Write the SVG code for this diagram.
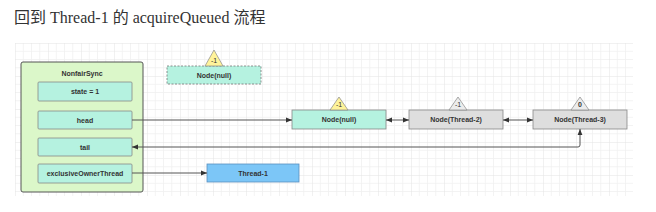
<svg xmlns="http://www.w3.org/2000/svg" width="656" height="212" viewBox="0 0 656 212">
<defs>
<pattern id="grid" x="15" y="43" width="33" height="33" patternUnits="userSpaceOnUse">
<path d="M8.25 0V33M16.5 0V33M24.75 0V33M0 8.25H33M0 16.5H33M0 24.75H33" stroke="#f0f0f0" stroke-width="0.8" fill="none"/>
<path d="M0 0V33M0 0H33" stroke="#e4e4e4" stroke-width="1" fill="none"/>
</pattern>
<marker id="arr" viewBox="0 0 10 10" refX="10" refY="5" markerWidth="6" markerHeight="6" orient="auto-start-reverse" markerUnits="userSpaceOnUse">
<path d="M0 1L10 5L0 9Z" fill="#333"/>
</marker>
<style>
.t{font-family:"Liberation Sans",Arial,sans-serif;font-size:7px;font-weight:bold;fill:#333;text-anchor:middle}
.f{fill:#b5f2e0;stroke:#888;stroke-width:0.8}
.g{fill:#dedede;stroke:#888;stroke-width:0.8}
.tri{fill:#fff39a;stroke:#888;stroke-width:0.7}
.tri2{fill:#ececec;stroke:#888;stroke-width:0.7}
.c{stroke:#555;stroke-width:1;fill:none}
.title{font-family:"Liberation Serif","Noto Sans CJK SC",serif;font-size:16px;fill:#333}
</style>
</defs>
<rect width="656" height="212" fill="#fff"/>
<rect x="15" y="43" width="618" height="153" fill="url(#grid)"/>
<text class="title" x="14" y="23">回到 Thread-1 的 acquireQueued 流程</text>

<g id="NonfairSync">
<rect x="21" y="62" width="122" height="130" rx="2" fill="#dbf7c9" stroke="#555" stroke-width="1"/>
<text class="t" x="82" y="76">NonfairSync</text>
</g>
<g id="state"><rect class="f" x="38" y="82" width="94" height="19" rx="1"/><text class="t" x="85" y="94">state = 1</text></g>
<g id="head"><rect class="f" x="38" y="111" width="94" height="18" rx="1"/><text class="t" x="85" y="122.5">head</text></g>
<g id="tail"><rect class="f" x="38" y="138" width="94" height="18" rx="1"/><text class="t" x="85" y="149.5">tail</text></g>
<g id="exclusiveOwnerThread"><rect class="f" x="38" y="164" width="94" height="19" rx="1"/><text class="t" x="85" y="176">exclusiveOwnerThread</text></g>

<g id="oldNode">
<rect x="167" y="66" width="94" height="18" fill="#b5f2e0" stroke="#777" stroke-width="0.8" stroke-dasharray="2,1.5"/>
<text class="t" x="214" y="78">Node(null)</text>
<path class="tri" d="M214 50L223 66H205Z"/>
<text class="t" x="214" y="63" font-size="6" style="font-weight:normal">-1</text>
</g>

<g id="nodeNull">
<rect class="f" x="292" y="110" width="94" height="19"/>
<text class="t" x="339" y="122">Node(null)</text>
<path class="tri" d="M339 97L348 110H330Z"/>
<text class="t" x="339" y="107" font-size="6" style="font-weight:normal">-1</text>
</g>

<g id="nodeThread2">
<rect class="g" x="409" y="110" width="94" height="19"/>
<text class="t" x="456" y="122">Node(Thread-2)</text>
<path class="tri2" d="M458 97L467 110H449Z"/>
<text class="t" x="458" y="107" font-size="6" style="font-weight:normal">-1</text>
</g>

<g id="nodeThread3">
<rect class="g" x="533" y="110" width="94" height="19"/>
<text class="t" x="580" y="122">Node(Thread-3)</text>
<path class="tri2" d="M580 97L589 110H571Z"/>
<text class="t" x="580" y="107" font-size="6">0</text>
</g>

<g id="thread1">
<rect x="207" y="164" width="92" height="18" fill="#7cc6f7" stroke="#5a8fbf" stroke-width="0.8"/>
<text class="t" x="253" y="175.5">Thread-1</text>
</g>

<g id="connectors">
<path class="c" d="M132 120H292" marker-end="url(#arr)"/>
<path class="c" d="M386 120H409" marker-start="url(#arr)" marker-end="url(#arr)"/>
<path class="c" d="M503 120H533" marker-start="url(#arr)" marker-end="url(#arr)"/>
<path class="c" d="M132 147H578Q580 147 580 145V129" marker-start="url(#arr)" marker-end="url(#arr)"/>
<path class="c" d="M132 173H207" marker-end="url(#arr)"/>
</g>
</svg>
